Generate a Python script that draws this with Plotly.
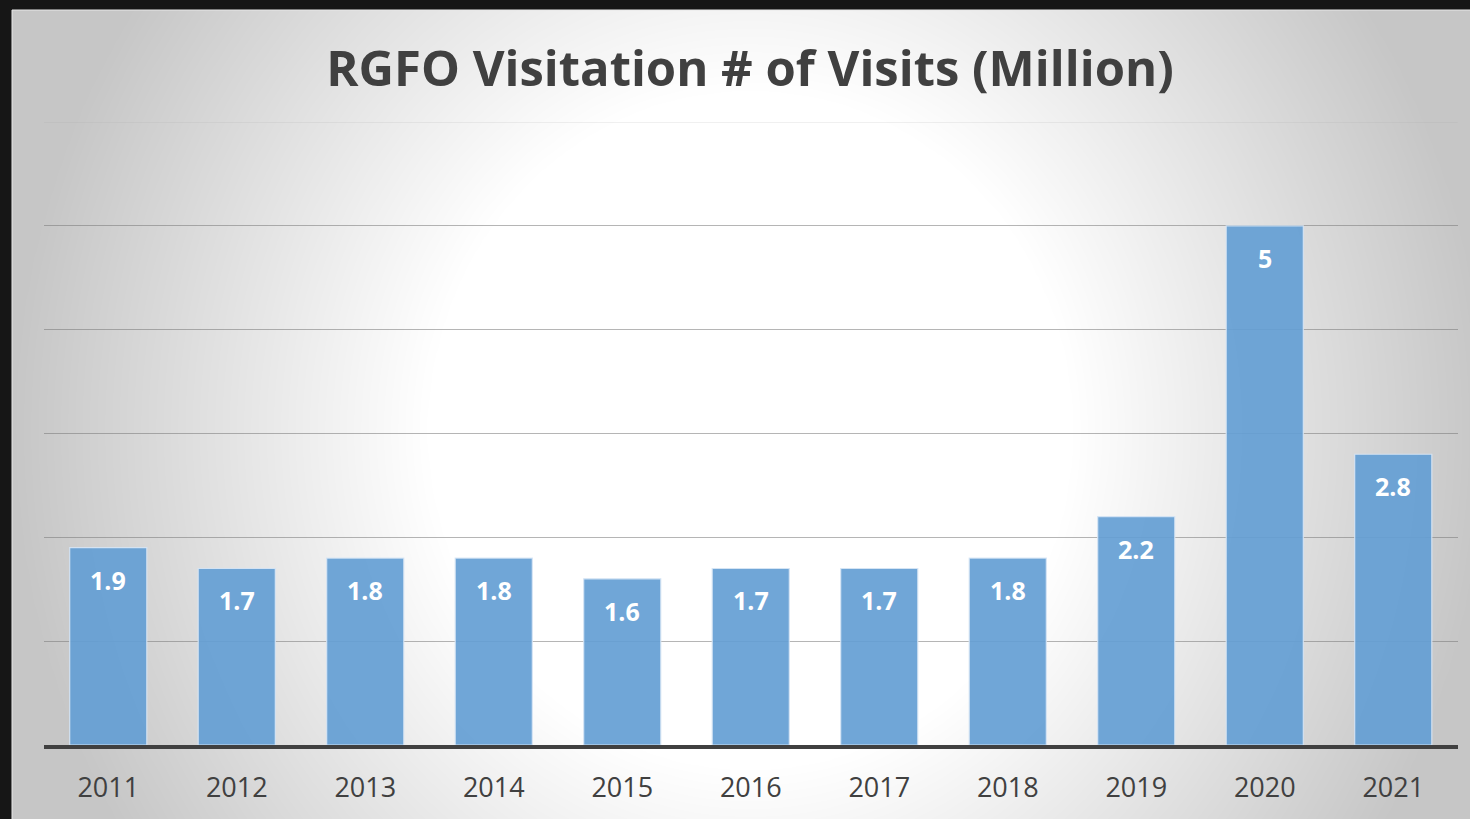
import numpy as np
import plotly.graph_objects as go

years = ["2011", "2012", "2013", "2014", "2015", "2016", "2017", "2018", "2019", "2020", "2021"]
visits = [1.9, 1.7, 1.8, 1.8, 1.6, 1.7, 1.7, 1.8, 2.2, 5, 2.8]
labels = ["1.9", "1.7", "1.8", "1.8", "1.6", "1.7", "1.7", "1.8", "2.2", "5", "2.8"]
title_text = "RGFO Visitation # of Visits (Million)"

W, H = 1470, 819
FONT = "Open Sans"
pos = list(range(len(years)))

# background radial gradient (styling only)
gx = np.linspace(12, W, 180)
gy = np.linspace(10, H, 110)
X, Y = np.meshgrid(gx, gy)
d = np.sqrt(((X - 750) / 760) ** 2 + ((Y - 430) / 800) ** 2)
z = 1 - np.clip((d - 0.42) / 0.55, 0, 1)

fig = go.Figure()
fig.add_trace(go.Heatmap(
    x=gx, y=gy, z=z, zsmooth="best", showscale=False, hoverinfo="skip",
    colorscale=[[0, "rgb(198,198,198)"], [1, "rgb(255,255,255)"]],
    zmin=0, zmax=1, xaxis="x", yaxis="y",
))
fig.add_trace(go.Bar(
    x=pos, y=visits, width=0.6,
    marker=dict(color="rgba(100,158,212,0.92)", line=dict(color="rgba(215,230,245,0.9)", width=1.2)),
    xaxis="x2", yaxis="y2", hoverinfo="skip",
))

for i, (v, lab) in enumerate(zip(visits, labels)):
    fig.add_annotation(x=pos[i], y=v, xref="x2", yref="y2", text=lab, showarrow=False,
                       yshift=-32, yanchor="middle",
                       font=dict(family=FONT, size=25, color="white", weight="bold"))

fig.update_layout(
    width=W, height=H,
    margin=dict(l=0, r=0, t=0, b=0, autoexpand=False),
    paper_bgcolor="#161616",
    plot_bgcolor="rgba(0,0,0,0)",
    showlegend=False,
    xaxis=dict(domain=[12 / W, 1], range=[12, W], visible=False, fixedrange=True),
    yaxis=dict(domain=[0, 1 - 10 / H], range=[H, 10], visible=False, fixedrange=True),
    xaxis2=dict(domain=[44 / W, 1457.5 / W], anchor="y2", range=[-0.5, len(years) - 0.5],
                tickmode="array", tickvals=pos, ticktext=years, showgrid=False, zeroline=False,
                showline=True, linecolor="#404040", linewidth=3.5, automargin=False,
                tickfont=dict(family=FONT, size=27, color="#404040"),
                ticks="", ticklabelstandoff=16),
    yaxis2=dict(domain=[(H - 745) / H, (H - 122) / H], anchor="x2", range=[0, 6],
                dtick=1, showgrid=True, gridcolor="rgba(120,120,120,0.55)", gridwidth=1,
                showticklabels=False, zeroline=False, automargin=False),
    title=dict(text=title_text, x=750 / W, xanchor="center", y=1 - 69 / H, yanchor="middle",
               font=dict(family=FONT, size=49, color="#404040", weight="bold")),
)
fig.add_shape(type="line", xref="x2 domain", yref="y2", x0=0, x1=1, y0=6, y1=6,
              line=dict(color="rgba(170,170,170,0.35)", width=1), layer="above")
fig.add_shape(type="rect", xref="paper", yref="paper", x0=12 / W, x1=1.01, y0=-0.01, y1=1 - 10 / H,
              line=dict(color="#e8e8e8", width=1), layer="above")

fig.write_html("out.html", config={"displayModeBar": False},
               post_script="document.body.style.margin='0';")
